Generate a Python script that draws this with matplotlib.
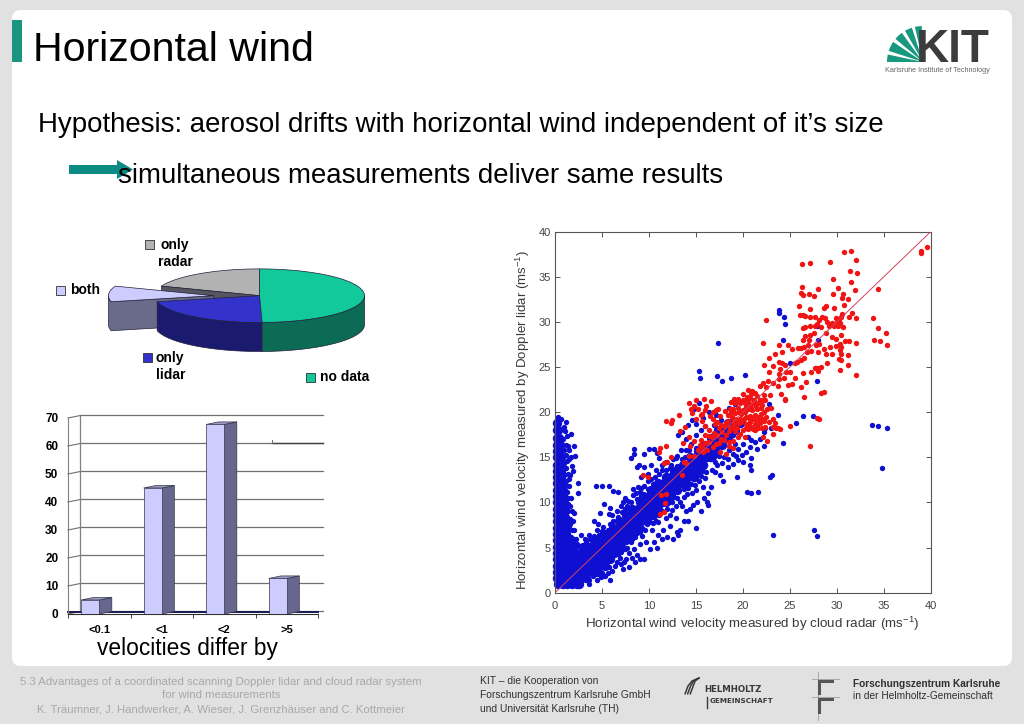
import numpy as np
import matplotlib
matplotlib.use("Agg")
import matplotlib.pyplot as plt
from matplotlib.patches import FancyBboxPatch, Polygon, Rectangle

plt.rcParams['font.family'] = ['Liberation Sans', 'DejaVu Sans']
plt.rcParams['mathtext.default'] = 'regular'

W, H = 1024, 724

# pie shares, clockwise from the top
pie_labels = ['no data', 'only lidar', 'both', 'only radar']
pie_values = [49.6, 21.8, 9.4, 19.2]

# bars
bar_labels = ['<0.1', '<1', '<2', '>5']
bar_values = [5, 45, 67.7, 12.7]
bar_ticks = [0, 10, 20, 30, 40, 50, 60, 70]

# scatter: solid part of the cloud, row by row (y, xs)
blue_core_rows = [
    (1.0, [.3, .8, 1.3, 1.8, 2.3, 2.6]),
    (1.6, [.2, .7, 1.2, 1.7, 2.2, 2.8, 3.3]),
    (2.3, [.2, .7, 1.2, 1.7, 2.2, 2.8, 3.4, 4.0, 4.5]),
    (3.0, [.2, .7, 1.2, 1.8, 2.4, 3.0, 3.6, 4.2, 4.8, 5.3]),
    (3.7, [.2, .7, 1.3, 1.9, 2.5, 3.1, 3.7, 4.4, 5.0, 5.5, 5.9]),
    (4.4, [.2, .7, 1.3, 2.0, 2.7, 3.3, 3.9, 4.5, 5.2, 5.8, 6.3]),
    (5.1, [.2, .7, 1.4, 1.9, 3.0, 3.6, 4.2, 4.8, 5.4, 6.0, 6.6, 7.0]),
    (5.8, [.2, .7, 1.3, 1.7, 4.1, 4.6, 5.2, 5.8, 6.4, 7.0, 7.4]),
    (6.5, [.2, .7, 1.2, 5.2, 5.7, 6.3, 6.9, 7.5, 8.1]),
    (7.2, [.2, .7, 1.2, 6.2, 6.8, 7.4, 8.0, 8.6, 8.9]),
    (7.9, [.2, .7, 1.1, 6.8, 7.4, 8.0, 8.6, 9.2, 9.8]),
    (8.6, [.2, .7, 1.0, 7.6, 8.2, 8.8, 9.4, 10.0, 10.4]),
    (9.3, [.2, .7, 1.0, 8.2, 8.8, 9.4, 10.0, 10.6, 11.0]),
    (10.0, [.2, .7, .9, 9.0, 9.6, 10.2, 10.8, 11.4, 11.8]),
    (10.7, [.2, .7, .9, 9.4, 10.0, 10.6, 11.2, 11.8, 12.4]),
    (11.4, [.2, .6, .8, 10.2, 10.8, 11.4, 12.0, 12.6, 13.0]),
    (12.1, [.2, .7, 11.0, 11.6, 12.2, 12.8, 13.4, 13.8]),
    (12.8, [.2, .6, 11.8, 12.4, 13.0, 13.6, 14.2, 14.8]),
    (13.5, [.2, .6, 12.7, 13.3, 13.9, 14.5, 15.1]),
    (14.2, [.2, .6, 13.6, 14.2, 14.8, 15.4, 15.8]),
    (15.0, [.2, .6, 14.4, 15.0, 15.6, 16.2, 16.6]),
    (15.7, [.2, .5, 15.2, 15.8, 16.4, 17.0]),
    (16.4, [.2, .5, 16.0, 16.6, 17.2, 17.8]),
    (17.1, [.2, .4, 16.6, 17.2, 17.8, 18.4]),
    (18.0, [.2, .3, 17.4, 18.0, 18.6, 19.2]),
    (18.8, [.2, 18.4, 19.0, 19.7]),
]

blue_points = [
    (23.9, 31.3), (23.8, 31.0), (24.4, 30.5), (24.5, 29.8), (24.3, 28.0), (15.3, 24.6), (15.4, 23.8),
    (17.4, 27.7), (17.3, 24.0), (17.8, 23.5), (18.7, 23.8), (20.2, 24.1), (27.9, 29.5), (28.0, 28.0),
    (27.9, 23.5), (25.0, 25.4), (22.8, 20.9), (23.7, 19.7), (25.7, 18.8), (26.4, 19.6), (27.5, 19.6),
    (33.8, 18.6), (34.4, 18.5), (35.4, 18.3), (34.8, 13.8), (24.3, 16.6), (22.2, 16.2), (22.9, 12.8),
    (23.1, 13.0), (20.4, 11.2), (20.9, 11.0), (21.6, 11.2), (23.2, 6.4), (27.6, 7.0), (27.9, 6.3),
    (15.0, 7.2), (5.9, 1.4), (2.5, 12.2), (2.5, 11.0), (2.0, 16.2), (2.1, 15.2), (1.9, 13.5), (1.7, 17.6),
    (1.2, 18.9), (1.0, 18.4), (.6, 19.2), (.3, 19.5), (1.5, 15.8), (1.7, 15.0), (1.8, 14.0), (1.4, 16.3),
    (1.6, 13.0), (1.3, 14.6), (1.5, 11.8), (1.7, 10.5), (1.4, 9.8), (1.8, 9.0), (1.6, 8.2), (2.0, 8.8),
    (1.5, 7.4), (2.0, 7.0), (1.7, 6.2), (2.2, 6.0), (2.8, 6.4), (3.2, 6.0), (3.6, 6.4), (4.2, 7.9),
    (4.6, 7.6), (4.5, 6.9), (5.1, 7.3), (4.8, 8.8), (5.2, 9.8), (5.7, 8.7), (5.9, 9.4), (6.2, 8.0),
    (6.7, 8.4), (6.2, 11.3), (6.7, 11.2), (4.4, 11.8), (5.0, 11.8), (5.7, 11.8), (7.0, 9.6), (7.2, 10.0),
    (7.5, 10.5), (7.8, 10.2), (8.3, 10.8), (8.4, 15.9), (8.4, 15.4), (8.1, 14.9), (8.7, 13.9), (8.9, 14.1),
    (9.5, 13.9), (9.5, 15.4), (10.0, 15.9), (10.5, 15.9), (10.9, 15.5), (11.1, 14.9), (11.4, 14.2),
    (10.2, 14.2), (9.9, 13.2), (9.2, 12.8), (9.9, 12.4), (8.8, 11.7), (8.3, 11.5), (11.8, 14.5), (12.6, 14.8),
    (13.0, 15.2), (13.4, 15.8), (13.1, 17.5), (13.5, 17.8), (14.0, 17.0), (14.2, 18.6), (14.6, 19.1),
    (15.0, 18.7), (14.8, 20.3), (15.3, 21.0), (15.8, 19.4), (16.4, 20.0), (17.1, 19.7), (17.7, 19.1),
    (16.9, 18.6), (18.0, 18.4), (18.5, 20.5), (19.2, 20.9), (20.2, 21.2), (9.5, 3.7), (9.1, 3.7), (8.5, 3.4),
    (7.9, 2.8), (8.2, 3.9), (7.3, 3.4), (7.0, 3.2), (6.9, 3.9), (7.7, 5.0), (8.1, 5.6), (8.7, 4.2), (9.0, 5.4),
    (9.7, 5.6), (10.1, 4.8), (10.5, 5.6), (11.0, 6.4), (11.4, 5.9), (11.5, 7.0), (11.9, 6.2), (12.6, 6.0),
    (13.0, 6.7), (13.1, 6.4), (13.3, 7.0), (13.7, 7.9), (13.9, 9.0), (14.4, 9.3), (14.2, 8.0), (15.5, 9.0),
    (15.9, 10.5), (16.2, 10.0), (16.3, 9.7), (16.3, 11.0), (15.0, 11.4), (15.8, 11.7), (16.0, 12.7),
    (16.6, 11.7), (17.0, 13.4), (17.6, 13.0), (17.9, 12.4), (18.4, 13.9), (19.0, 14.3), (19.4, 12.8),
    (20.0, 14.5), (20.9, 14.9), (20.8, 14.1), (20.9, 13.6), (19.5, 14.7), (21.5, 15.9), (21.3, 16.7),
    (20.9, 16.9), (21.8, 17.0), (22.3, 17.8), (22.4, 18.3), (23.0, 18.2), (4.0, 1.8), (5.0, 2.2), (5.6, 2.2),
    (6.1, 2.4), (3.6, 1.4), (2.8, 1.4), (2.2, 1.3), (15.0, 16.0), (15.5, 15.0), (16.0, 14.2), (16.5, 14.8),
    (17.0, 14.5), (17.5, 15.2), (18.0, 15.0), (18.5, 15.8), (19.0, 15.4), (19.5, 15.9), (19.2, 16.5),
    (19.0, 17.5), (18.5, 17.0), (18.0, 17.5), (17.5, 18.2), (17.0, 17.5), (20.0, 16.5), (20.5, 17.2),
    (16.0, 18.5), (15.5, 18.0), (15.0, 17.5), (14.5, 16.5), (14.0, 15.8), (13.5, 14.8), (13.0, 14.0),
    (15.6, 13.5), (14.5, 12.0), (13.7, 11.5), (14.6, 11.0), (13.0, 10.5), (12.5, 9.2), (11.8, 8.3),
    (11.0, 7.8), (10.3, 7.0), (9.3, 6.3), (8.5, 6.2),
    # spike flanks
    (1.1, 17.9), (1.3, 17.4), (.9, 17.0), (1.2, 16.4), (1.0, 15.8), (1.2, 15.3), (1.5, 14.8), (1.0, 14.4),
    (1.2, 13.8), (1.4, 13.2), (1.0, 13.0), (1.2, 12.4), (1.5, 12.6), (1.1, 11.9), (1.3, 11.2), (1.1, 10.6),
    (1.4, 10.5), (1.2, 10.0), (1.6, 9.6), (1.4, 9.0), (1.3, 8.4), (1.9, 8.0), (1.6, 7.6), (1.8, 6.9), (1.9, 5.7),
    (2.3, 5.4), (2.6, 5.2), (2.1, 4.9), (3.3, 5.6), (3.7, 5.9), (4.1, 6.3), (4.7, 6.4), (5.0, 6.8), (5.6, 7.0),
    (5.9, 7.6), (6.1, 8.6), (6.6, 9.0), (7.1, 8.9), (7.4, 9.3), (7.7, 9.6), (8.1, 10.1), (8.7, 10.4), (8.6, 11.0),
    (9.0, 11.2), (9.5, 11.8), (9.2, 11.6), (9.9, 11.5), (10.4, 12.0), (10.2, 12.6), (10.7, 12.8), (11.1, 13.2),
    (11.4, 13.6), (11.8, 13.6), (12.2, 13.8), (12.4, 14.2), (10.8, 13.6), (12.9, 14.9), (13.8, 15.0), (14.3, 15.8),
    # below the band
    (3.6, 1.0), (4.5, 1.4), (4.9, 1.7), (5.3, 1.9), (5.7, 2.8), (6.4, 3.0), (6.6, 3.4), (7.2, 2.6), (7.6, 3.7),
    (6.7, 4.3), (7.0, 4.5), (7.4, 4.8), (7.9, 4.4), (8.4, 4.8), (7.6, 5.6), (8.2, 6.0), (8.7, 6.6), (9.1, 6.7),
    (9.6, 6.9), (9.3, 7.2), (9.8, 7.6), (10.4, 7.7), (10.8, 8.0), (10.3, 8.4), (11.1, 8.6), (11.4, 9.0), (11.9, 9.3),
    (11.5, 9.8), (12.1, 10.0), (12.5, 10.1), (12.9, 9.6), (13.3, 10.1), (13.7, 10.6), (14.1, 10.9), (13.5, 9.6),
    (14.2, 11.6), (14.9, 11.9), (15.3, 12.4), (15.5, 12.9), (14.8, 12.6), (16.1, 13.4), (16.7, 13.6), (17.3, 14.1),
    (17.8, 14.4), (18.4, 14.8), (16.9, 15.0), (19.3, 15.2), (20.3, 15.6), (20.8, 16.1), (19.9, 15.3), (10.9, 5.0),
    (12.2, 7.4), (12.9, 8.3), (12.2, 8.6), (10.9, 9.0), (15.1, 10.0), (14.7, 9.7),
]

red_points = [
    (39.0, 37.6), (39.0, 37.9), (39.6, 38.3), (30.8, 37.8), (31.5, 37.9), (32.1, 36.9), (32.2, 35.4),
    (31.4, 35.7), (31.5, 34.4), (31.9, 33.5), (29.3, 36.6), (29.6, 34.8), (26.3, 36.4), (27.1, 36.5),
    (26.3, 33.9), (26.2, 33.2), (26.4, 33.0), (27.0, 33.1), (27.6, 32.9), (28.0, 33.7), (30.1, 33.8),
    (29.6, 33.1), (30.7, 33.1), (30.6, 32.6), (31.2, 32.5), (30.8, 31.9), (28.8, 31.8), (28.6, 31.5),
    (29.7, 31.5), (27.2, 31.4), (26.0, 31.8), (26.1, 30.8), (26.4, 30.8), (26.6, 30.7), (27.1, 30.5),
    (27.7, 30.6), (31.6, 31.0), (31.3, 30.6), (32.1, 30.4), (33.9, 30.4), (34.4, 33.6), (34.4, 29.3),
    (35.2, 28.8), (34.0, 28.0), (34.6, 27.9), (35.4, 27.5), (22.5, 30.2), (22.1, 27.7), (29.5, 29.9),
    (29.7, 29.6), (30.0, 30.0), (30.2, 30.3), (30.4, 30.6), (30.6, 30.9), (30.1, 29.5), (30.3, 29.9),
    (29.2, 29.6), (29.9, 30.4), (29.0, 30.0), (28.7, 30.4), (28.4, 30.5), (28.1, 30.2), (27.9, 29.8),
    (28.3, 29.4), (27.7, 29.5), (27.2, 29.5), (26.4, 29.3), (26.6, 29.4), (30.7, 29.4), (30.5, 28.5),
    (29.9, 28.1), (29.5, 28.3), (28.9, 28.8), (27.6, 28.8), (27.2, 28.5), (27.0, 28.0), (26.6, 28.4),
    (26.4, 28.0), (26.9, 27.5), (27.8, 27.5), (28.1, 27.6), (26.2, 27.1), (26.5, 27.2), (26.8, 26.7),
    (27.3, 26.8), (28.0, 26.7), (28.6, 27.0), (29.3, 27.2), (29.9, 27.3), (30.3, 27.6), (30.4, 27.2),
    (30.9, 27.9), (31.3, 27.9), (32.0, 27.7), (30.3, 26.9), (30.5, 26.5), (31.2, 26.3), (29.5, 26.5),
    (28.9, 26.4), (30.2, 25.9), (30.5, 25.8), (31.2, 25.2), (30.3, 24.7), (32.0, 24.1), (29.0, 25.4),
    (28.3, 25.0), (27.7, 24.9), (28.0, 24.6), (27.3, 24.5), (26.4, 24.3), (26.7, 23.4), (27.9, 24.9),
    (26.2, 22.8), (26.5, 21.7), (28.3, 22.1), (28.6, 22.2), (25.6, 23.8), (25.2, 23.1), (25.0, 24.5),
    (25.5, 25.5), (25.8, 25.6), (26.2, 25.8), (26.5, 26.0), (24.5, 25.2), (24.2, 25.4), (24.0, 24.8),
    (24.6, 24.5), (23.8, 24.2), (23.2, 25.1), (22.8, 24.5), (23.9, 23.7), (24.4, 23.8), (24.8, 23.0),
    (24.1, 22.0), (24.5, 21.5), (24.5, 21.3), (23.7, 22.9), (23.2, 23.2), (22.7, 23.5), (22.1, 23.2),
    (21.8, 22.9), (22.5, 22.8), (22.9, 21.9), (22.2, 21.9), (22.4, 21.3), (23.4, 26.5), (24.2, 26.7),
    (24.8, 27.4), (25.2, 27.0), (23.9, 27.5), (25.9, 27.1), (22.8, 26.0), (23.8, 25.6), (22.2, 25.2),
    (19.5, 21.5), (20.0, 22.0), (20.5, 22.5), (21.0, 22.3), (21.5, 21.8), (20.8, 21.6), (20.2, 21.0),
    (20.6, 20.9), (21.1, 21.0), (21.6, 21.0), (22.0, 20.8), (21.5, 20.3), (21.0, 20.2), (20.5, 20.3),
    (20.0, 20.2), (19.5, 20.5), (19.0, 20.3), (19.8, 19.8), (20.3, 19.5), (20.8, 19.6), (21.3, 19.7),
    (21.7, 19.5), (22.2, 20.0), (22.6, 20.3), (23.0, 20.5), (23.2, 19.2), (23.4, 18.8), (22.8, 18.9),
    (22.3, 19.0), (21.8, 18.8), (21.3, 18.7), (20.8, 18.9), (20.3, 18.7), (19.8, 18.9), (19.3, 19.3),
    (18.8, 19.5), (18.4, 19.0), (18.9, 18.3), (19.4, 18.2), (20.0, 18.0), (20.6, 18.1), (21.1, 18.1),
    (21.6, 18.2), (22.0, 18.3), (23.2, 18.4), (23.5, 18.2), (23.7, 18.3), (19.7, 17.6), (20.2, 17.2),
    (18.5, 17.9), (18.2, 17.5), (17.8, 17.8), (18.0, 18.5), (17.5, 18.2), (17.2, 17.5), (17.7, 17.0),
    (17.1, 16.5), (16.7, 17.2), (16.4, 16.7), (16.8, 16.1), (16.2, 15.8), (15.7, 16.1), (15.2, 15.8),
    (14.8, 15.2), (14.3, 15.2), (13.7, 14.5), (13.5, 13.0), (14.0, 14.4), (15.5, 16.9), (16.0, 17.5),
    (16.4, 18.0), (17.0, 18.7), (16.0, 18.5), (15.7, 19.0), (15.0, 19.3), (15.7, 19.8), (16.0, 20.2),
    (16.5, 19.6), (16.8, 20.0), (17.1, 20.2), (17.4, 20.4), (16.1, 20.7), (16.6, 21.2), (15.5, 19.7),
    (14.5, 20.3), (14.8, 20.7), (14.3, 21.0), (15.0, 21.4), (13.2, 19.7), (12.5, 19.1), (11.8, 19.0),
    (12.3, 18.8), (13.8, 18.4), (13.3, 17.9), (14.3, 17.2), (13.6, 16.6), (14.4, 16.2), (14.8, 16.8),
    (11.8, 16.2), (11.2, 16.0), (11.1, 15.6), (11.6, 14.4), (11.9, 14.5), (12.4, 15.0), (9.9, 12.8),
    (9.4, 13.0), (11.8, 10.9), (11.3, 10.8), (11.7, 9.9), (11.6, 8.9), (11.2, 8.7), (17.6, 15.6), (18.2, 15.4),
    (18.5, 16.3), (18.9, 16.8), (19.5, 17.2), (19.0, 16.0), (18.6, 20.4), (18.7, 21.1), (19.1, 21.5),
    (20.0, 21.3), (22.1, 17.2), (22.6, 16.8), (23.2, 17.6), (24.0, 18.1), (25.0, 18.5), (27.9, 19.4),
    (28.1, 19.3), (27.1, 16.2), (21.3, 18.0), (21.9, 19.8), (20.7, 19.4), (21.8, 21.4), (20.3, 20.6),
    (19.7, 19.2), (20.9, 20.9),
    # thick part around 20 m/s
    (19.2, 21.0), (19.7, 21.0), (20.4, 21.7), (20.9, 22.0), (21.3, 22.1), (21.2, 21.4), (20.5, 21.3), (22.1, 21.4),
    (21.9, 20.5), (21.4, 20.7), (20.9, 20.5), (20.2, 20.0), (19.6, 20.0), (19.2, 19.9), (18.7, 20.0), (18.4, 19.7),
    (19.1, 19.0), (19.6, 18.8), (20.1, 19.2), (20.6, 18.6), (21.1, 19.2), (21.5, 19.1), (22.0, 19.3), (22.5, 19.5),
    (19.1, 18.7), (20.3, 18.2), (20.9, 18.4), (21.5, 18.5), (22.4, 18.4), (19.2, 17.9), (18.6, 18.4), (18.2, 18.8),
    (17.7, 18.6), (17.3, 18.9), (16.9, 17.7), (16.4, 17.4), (17.5, 16.6), (18.0, 16.9), (18.5, 16.7), (16.0, 16.6),
    (15.4, 16.4), (15.8, 15.6), (16.8, 19.2), (17.6, 19.6), (18.1, 20.1), (15.2, 20.4), (14.6, 19.9), (15.9, 21.5),
]

diag_x = [0, 40]
diag_y = [0, 40]


def px_axes(left, top, right, bottom, **kw):
    return fig.add_axes([left / W, 1 - bottom / H, (right - left) / W, (bottom - top) / H], **kw)


fig = plt.figure(figsize=(W / 100, H / 100), dpi=100, facecolor='#e1e1e1')

# slide layer, in pixels
bg = px_axes(0, 0, W, H)
bg.set_xlim(0, W)
bg.set_ylim(H, 0)
bg.axis('off')
bg.add_patch(FancyBboxPatch((12, 10), 1000, 656, boxstyle='round,pad=0,rounding_size=9',
                            fc='white', ec='none'))
bg.add_patch(Rectangle((12, 20), 10, 42, fc='#1a9580', ec='none'))

bg.text(33, 61, 'Horizontal wind', fontsize=29.6, color='black')
bg.text(38, 132, 'Hypothesis: aerosol drifts with horizontal wind independent of it\u2019s size', fontsize=19.9, color='black')
bg.text(118, 183, 'simultaneous measurements deliver same results', fontsize=19.9, color='black')
bg.add_patch(Polygon([(69, 165), (117, 165), (117, 160), (133, 169.5), (117, 179), (117, 174), (69, 174)],
                     fc='#0c8a84', ec='none'))
bg.text(187, 648, 'velocities differ by', fontsize=16.4, ha='center', va='center', color='black')

# pie, tilted with a drop side
cx, cy, rx, ry, depth = 259.5, 295.7, 105, 26.8, 29
edges = 90 - np.cumsum([0] + pie_values) * 3.6


def arc(a0, a1, dx=0, dy=0):
    t = np.radians(np.linspace(a0, a1, 50))
    return np.column_stack([cx + dx + rx * np.cos(t), cy + dy - ry * np.sin(t)])


def shade(pts, col):
    bg.add_patch(Polygon(pts, closed=True, fc=col, ec='#20203a', lw=0.5))


data_a, lidar_a, both_a, radar_a = edges[0:2], edges[1:3], edges[2:4], edges[3:5]
centre = np.array([[cx, cy]])
shift = -46
apex = np.array([[cx + shift, cy]])

shade(np.vstack([centre, arc(radar_a[0], radar_a[1])]), '#b2b2b2')
p = arc(radar_a[0], radar_a[0])[:1]
shade(np.vstack([p, centre, centre + [0, depth], p + [0, depth]]), '#555560')

# both, pulled out of the pie
front = arc(both_a[0], -180, shift)
shade(np.vstack([apex, front, front[::-1] + [0, depth], apex + [0, depth]]), '#6a6a8a')
shade(np.vstack([apex, arc(both_a[0], both_a[1], shift)]), '#ccccff')

top_l = arc(lidar_a[0], lidar_a[1])
shade(np.vstack([top_l, top_l[::-1] + [0, depth]]), '#1a1a6e')
shade(np.vstack([centre, top_l]), '#3333cc')
side_d = arc(0, data_a[1])
shade(np.vstack([side_d, side_d[::-1] + [0, depth]]), '#0b6b55')
shade(np.vstack([centre, arc(data_a[0], data_a[1])]), '#12c99b')

for x, y, col in [(149, 244, '#b2b2b2'), (60, 290, '#ccccff'), (147, 357, '#3333cc'), (310, 377, '#12c99b')]:
    bg.add_patch(Rectangle((x - 4.5, y - 4.5), 9, 9, fc=col, ec='#303030', lw=0.6))
legend_bold = dict(fontsize=10, fontweight='bold', va='center', color='black')
bg.text(175, 245, 'only', ha='center', **legend_bold)
bg.text(175, 262, 'radar', ha='center', **legend_bold)
bg.text(70, 290, 'both', **legend_bold)
bg.text(156, 358, 'only', **legend_bold)
bg.text(156, 375, 'lidar', **legend_bold)
bg.text(320, 377, 'no data', **legend_bold)

# KIT logo
for a0, a1 in [(0, 12), (18, 34), (40, 54), (60, 72), (77, 88)]:
    t = np.radians(np.linspace(a0, a1, 8))
    r = 36
    fan = np.column_stack([923 - r * np.cos(t), 62 - r * np.sin(t)])
    bg.add_patch(Polygon(np.vstack([[[923, 62]], fan]), fc='#18997f', ec='none'))
bg.text(916, 62, 'KIT', fontsize=33, fontweight='bold', color='#3c3c3c', va='baseline')
bg.text(885, 70, 'Karlsruhe Institute of Technology', fontsize=5.2, color='#666666', va='center')

# footer
foot_grey = dict(fontsize=8.2, color='#a8a8a8', ha='center', va='center')
bg.text(221, 682, '5.3 Advantages of a coordinated scanning Doppler lidar and cloud radar system', **foot_grey)
bg.text(221, 695, 'for wind measurements', **foot_grey)
bg.text(221, 709, 'K. Tr\u00e4umner, J. Handwerker, A. Wieser, J. Grenzh\u00e4user and C. Kottmeier', **foot_grey)
foot_dark = dict(fontsize=7.4, color='#303030', va='center')
bg.text(480, 681, 'KIT \u2013 die Kooperation von', **foot_dark)
bg.text(480, 695, 'Forschungszentrum Karlsruhe GmbH', **foot_dark)
bg.text(480, 709, 'und Universit\u00e4t Karlsruhe (TH)', **foot_dark)

# Helmholtz logo
for off in (0, 2.6, 5.2):
    bg.plot([685 + off, 688 + off, 692 + off * 0.6, 699], [694, 686, 681, 678], color='#3a3a3a', lw=1.1, solid_capstyle='round')
bg.text(704, 690, 'HELMHOLTZ', fontsize=6.2, fontweight='bold', family='DejaVu Sans', color='#3a3a3a', va='center')
bg.text(710, 701, 'GEMEINSCHAFT', fontsize=5.2, fontweight='bold', family='DejaVu Sans', color='#3a3a3a', va='center')
bg.plot([707, 707], [697, 708], color='#3a3a3a', lw=1)

# FZK logo
bg.plot([817.5, 817.5], [672, 720], color='#a8a8a8', lw=0.7)
bg.plot([812, 839], [679, 679], color='#a8a8a8', lw=0.7)
bg.plot([812, 839], [697, 697], color='#a8a8a8', lw=0.7)
bg.plot([819, 819, 832], [693, 680.5, 680.5], color='#555555', lw=2.2, solid_joinstyle='miter')
bg.plot([819, 819, 832], [712, 698.5, 698.5], color='#555555', lw=2.2, solid_joinstyle='miter')
bg.text(853, 684, 'Forschungszentrum Karlsruhe', fontsize=7.3, fontweight='bold', color='#303030', va='center')
bg.text(853, 696, 'in der Helmholtz-Gemeinschaft', fontsize=7.3, color='#303030', va='center')

# bar chart with fake depth
ax_bar = px_axes(68, 418, 318, 614, facecolor='none')
ax_bar.set_xlim(0, 4)
ax_bar.set_ylim(0, 70)
depth_x, depth_y = 0.198, 0.9
for v in bar_ticks:
    ax_bar.plot([depth_x, 4 + depth_x * 0.4], [v + depth_y, v + depth_y], color='#707070', lw=0.9, clip_on=False, zorder=1)
    ax_bar.plot([0, depth_x], [v, v + depth_y], color='#707070', lw=0.8, clip_on=False, zorder=1)
ax_bar.plot([depth_x, depth_x], [depth_y, 70 + depth_y], color='#808080', lw=0.9, clip_on=False, zorder=1)
ax_bar.plot([3.27, 4 + depth_x * 0.4], [60 + depth_y, 60 + depth_y], color='#404040', lw=1, clip_on=False, zorder=1)
ax_bar.plot([3.27, 3.27], [60 + depth_y, 62], color='#707070', lw=0.7, zorder=1)
ax_bar.plot([0, 4], [0.6, 0.6], color='#1a1a50', lw=1.4, zorder=2, clip_on=False)

bar_left = np.arange(4) + 0.21
bar_w = 0.293
ax_bar.bar(bar_left, bar_values, bar_w, align='edge', color='#ccccff', edgecolor='#34344a', linewidth=0.5, zorder=4)
for x0, v in zip(bar_left, bar_values):
    x1 = x0 + bar_w
    ax_bar.add_patch(Polygon([(x1, 0), (x1 + depth_x, depth_y), (x1 + depth_x, v + depth_y), (x1, v)],
                             fc='#66668f', ec='#34344a', lw=0.5, zorder=3))
    ax_bar.add_patch(Polygon([(x0, v), (x0 + depth_x, v + depth_y), (x1 + depth_x, v + depth_y), (x1, v)],
                             fc='#9a9ac2', ec='#34344a', lw=0.5, zorder=3))

for side in ('top', 'right'):
    ax_bar.spines[side].set_visible(False)
ax_bar.spines['left'].set_color('#808080')
ax_bar.spines['bottom'].set_color('#303030')
ax_bar.set_xticks(np.arange(4) + 0.5, bar_labels, fontsize=8, fontweight='bold')
ax_bar.set_xticks(np.arange(5), minor=True)
ax_bar.set_yticks(bar_ticks, [str(v) for v in bar_ticks], fontsize=8.5, fontweight='bold')
ax_bar.tick_params(axis='x', which='major', length=0, pad=8)
ax_bar.tick_params(axis='x', which='minor', length=3, width=0.7, color='#404040')
ax_bar.tick_params(axis='y', length=0, pad=7)

# scatter
ax = px_axes(555, 231.7, 930.7, 592.7, facecolor='white')
core_x = [x for y, xs in blue_core_rows for x in xs]
core_y = [y for y, xs in blue_core_rows for x in xs]
blue = np.array(blue_points)
red = np.array(red_points)
ax.scatter(core_x, core_y, s=46, marker='o', color='#0f0fd2', linewidths=0, clip_on=False, zorder=2)
ax.scatter(blue[:, 0], blue[:, 1], s=15, marker='o', color='#0f0fd2', linewidths=0, clip_on=False, zorder=2)
ax.scatter(red[:, 0], red[:, 1], s=15, marker='o', color='#f01414', linewidths=0, clip_on=False, zorder=3)
ax.plot(diag_x, diag_y, color='#d8405a', lw=0.7, zorder=4)
ax.set_xlim(0, 40)
ax.set_ylim(0, 40)
ax.set_xticks(np.arange(0, 41, 5))
ax.set_yticks(np.arange(0, 41, 5))
ax.tick_params(direction='in', top=True, right=True, length=3.5, width=0.7, color='#555555',
               labelsize=8, labelcolor='#444444')
ax.tick_params(axis='x', pad=6)
ax.tick_params(axis='y', pad=3)
for s in ax.spines.values():
    s.set_color('#555555')
    s.set_linewidth(0.8)
ax.set_xlabel('Horizontal wind velocity measured by cloud radar (ms$^{-1}$)', fontsize=9.6, color='#3a3a3a')
ax.xaxis.set_label_coords(0.525, -0.062)
ax.set_ylabel('Horizontal wind velocity measured by Doppler lidar (ms$^{-1}$)', fontsize=9.5, color='#3a3a3a')
ax.yaxis.set_label_coords(-0.062, 0.478)

fig.savefig('out.png', dpi=100, facecolor=fig.get_facecolor())
